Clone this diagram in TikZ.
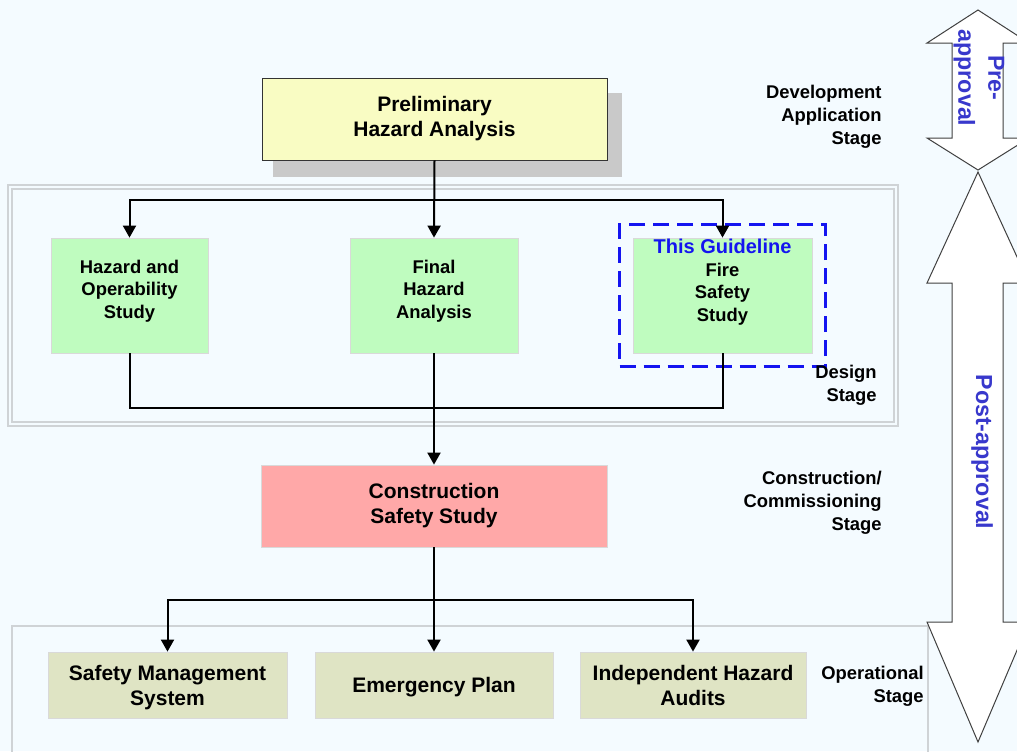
\documentclass[tikz,border=0pt]{standalone}
\usepackage{fontspec}
\setmainfont{Liberation Sans}
\usetikzlibrary{arrows.meta,positioning,fit}
\definecolor{pagebg}{HTML}{F4FBFF}
\definecolor{phayellow}{HTML}{F9FCC3}
\definecolor{studygreen}{HTML}{BFFCBF}
\definecolor{cssred}{HTML}{FFA8A8}
\definecolor{opkhaki}{HTML}{DFE4C4}
\definecolor{shadowgray}{HTML}{C9C9C9}
\definecolor{framegray}{HTML}{CFD3D6}
\definecolor{guideblue}{HTML}{1414F0}
\definecolor{phaseblue}{HTML}{3838CC}

\begin{document}
\begin{tikzpicture}[
  x=0.5pt, y=-0.5pt,
  font=\bfseries,
  flow/.style={-{Triangle[length=6pt,width=6.5pt]}, line width=1pt},
  link/.style={line width=1pt},
  bigbox/.style={rectangle, minimum height=41pt, align=center, inner sep=0pt,
    font=\bfseries\fontsize{10.5}{12.5}\selectfont},
  study/.style={draw=gray!30, fill=studygreen, minimum height=57.5pt, inner sep=0pt},
  studytext/.style={align=center, inner sep=0pt, font=\bfseries\fontsize{9.2}{11.3}\selectfont},
  opbox/.style={draw=gray!30, fill=opkhaki, minimum height=33pt, align=center, inner sep=0pt,
    text depth=0pt, font=\bfseries\fontsize{10.5}{12.5}\selectfont},
  stagelbl/.style={anchor=east, align=right, inner sep=0pt, font=\bfseries\fontsize{9.2}{11.5}\selectfont},
  phase/.style={rotate=-90, align=center, inner sep=0pt, text=phaseblue,
    font=\bfseries\fontsize{11.6}{15}\selectfont},
  phasearrow/.style={draw=black!75, line width=0.5pt, fill=white}
]
\useasboundingbox (0,0) rectangle (1017,751);
\clip (0,0) rectangle (1017,751);
\fill[pagebg] (0,0) rectangle (1017,751);

% stage frames
\draw[framegray, line width=0.8pt] (8,185) rectangle (898,426);
\draw[framegray, line width=0.8pt] (12,189) rectangle (894,422);
\draw[framegray, line width=0.8pt] (12,626) rectangle (928,770);

% approval arrows
\draw[phasearrow] (978,10) -- (927,43) -- (952,43) -- (952,138) -- (927,138) -- (978,170)
  -- (1029,138) -- (1003,138) -- (1003,43) -- (1029,43) -- cycle;
\draw[phasearrow] (978,172) -- (927,283) -- (952,283) -- (952,622) -- (927,622) -- (978,742)
  -- (1029,622) -- (1003,622) -- (1003,283) -- (1029,283) -- cycle;
\node[phase] (pre) at (979,78) {Pre-\\approval};
\node[phase] (post) at (982,452) {Post-approval};

% boxes
\fill[shadowgray] (273,93) rectangle (622,177);
\node[bigbox, draw=black!80, fill=phayellow, minimum width=172.5pt] (pha) at (434.5,119) {Preliminary\\Hazard Analysis};

\node[study, minimum width=78.5pt] (hazop) at (129.5,295.5) {};
\node[study, minimum width=84pt] (fha) at (434,295.5) {};
\node[study, minimum width=89.5pt] (fss) at (722.5,295.5) {};
\node[studytext, below=11pt of hazop.north] (hazoptxt) {Hazard and\\Operability\\Study};
\node[studytext, below=11pt of fha.north] (fhatxt) {Final\\Hazard\\Analysis};
\node[studytext, below=0.5pt of fss.north] (fsstxt) {{\color{guideblue}\fontsize{10}{11.3}\selectfont This Guideline}\\Fire\\Safety\\Study};
\node[draw=guideblue, dashed, dash pattern=on 8pt off 4pt, line width=1.4pt, fit=(fss), inner sep=6.5pt] (guide) {};

\node[bigbox, draw=gray!30, fill=cssred, minimum width=173pt] (css) at (434,506) {Construction\\Safety Study};

\node[opbox, minimum width=119.5pt] (sms) at (167.5,685) {Safety Management\\System};
\node[opbox, minimum width=119pt] (ep) at (434,685) {Emergency Plan};
\node[opbox, minimum width=113pt] (iha) at (693,685) {Independent Hazard\\Audits};

% stage labels
\node[stagelbl] (devstage) at (882,116.5) {Development\\Application\\Stage};
\node[stagelbl] (desstage) at (877,385) {Design\\Stage};
\node[stagelbl] (constage) at (882,503) {Construction/\\Commissioning\\Stage};
\node[stagelbl] (opstage) at (924,686.5) {Operational\\Stage};

% connectors
\coordinate (split1) at (434,200);
\coordinate (join1) at (434,408);
\coordinate (split2) at (434,600);
\draw[flow] (pha.south) -- (fha.north);
\draw[flow] (split1) -| (hazop.north);
\draw[flow] (split1) -| (fss.north);
\draw[link] (hazop.south) |- (join1);
\draw[link] (fss.south) |- (join1);
\draw[link] (fha.south) -- (join1);
\draw[flow] (join1) -- (css.north);
\draw[flow] (css.south) -- (ep.north);
\draw[flow] (split2) -| (sms.north);
\draw[flow] (split2) -| (iha.north);
\end{tikzpicture}
\end{document}
